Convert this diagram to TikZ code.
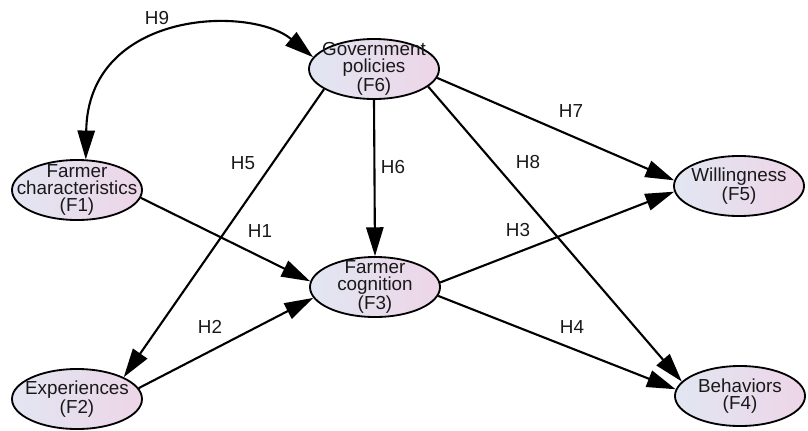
\documentclass[tikz,border=0pt]{standalone}
\usepackage{fontspec}
\setmainfont{Liberation Sans}
\usetikzlibrary{arrows.meta,shapes.geometric}
\definecolor{lblue}{HTML}{E2E6F2}
\definecolor{lpink}{HTML}{EDD5E7}
\tikzset{
  factor/.style={ellipse,draw,line width=1.3pt,minimum width=3.25cm,minimum height=1.5cm,
    inner sep=0pt,left color=lblue,right color=lpink},
  ftext/.style={font=\fontsize{13.4}{12.4}\selectfont,align=center,text=black!90,inner sep=0pt},
  hyp/.style={line width=1.5pt,-{Triangle[length=7.2mm,width=4.3mm]}},
}

\begin{document}
\begin{tikzpicture}[x=0.025cm,y=-0.025cm]
\useasboundingbox (0,0) rectangle (808,430);
% factors
\node[factor,label={[ftext]center:Government\\policies\\(F6)}]     (F6) at (374,69)  {};
\node[factor,label={[ftext]center:Farmer\\characteristics\\(F1)}]  (F1) at (77,190)  {};
\node[factor,label={[ftext]center:Farmer\\cognition\\(F3)}]        (F3) at (375,287) {};
\node[factor,label={[ftext]center:Willingness\\(F5)}]              (F5) at (739,186) {};
\node[factor,label={[ftext]center:Experiences\\(F2)}]              (F2) at (77,399)  {};
\node[factor,label={[ftext]center:Behaviors\\(F4)}]                (F4) at (740,396) {};
% paths
\draw[hyp,{Triangle[length=7.2mm,width=4.3mm]}-{Triangle[length=7.2mm,width=4.3mm]}]
  (F1.74) .. controls (88,10) and (250,5) .. (F6.169);
\draw[hyp] (F6.-158) -- (F2.25);
\draw[hyp] (F6.south) -- (F3.north);
\draw[hyp] (F6.-8)   -- (F5.175);
\draw[hyp] (F6.-18)  -- (F4.166);
\draw[hyp] (F1.-7)   -- (F3.175);
\draw[hyp] (F2.10)   -- (F3.-170);
\draw[hyp] (F3.4)    -- (F5.-175);
\draw[hyp] (F3.-8)   -- (F4.174);
% hypothesis labels
\node[ftext] (h9) at (157,18)  {H9};
\node[ftext] (h5) at (243,163) {H5};
\node[ftext] (h6) at (393,167) {H6};
\node[ftext] (h7) at (571,111) {H7};
\node[ftext] (h8) at (528,162) {H8};
\node[ftext] (h1) at (260,231) {H1};
\node[ftext] (h3) at (518,230) {H3};
\node[ftext] (h2) at (210,327) {H2};
\node[ftext] (h4) at (572,327) {H4};
\end{tikzpicture}
\end{document}
